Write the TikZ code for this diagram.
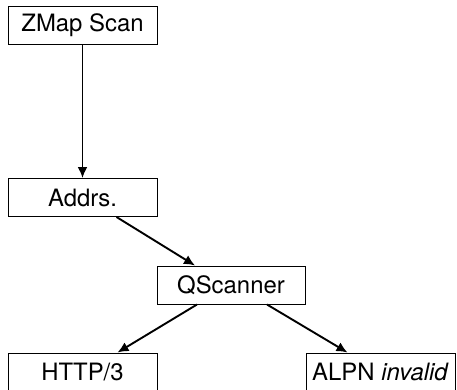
\documentclass[tikz,border=0pt]{standalone}
\usepackage{fontspec}
\setmainfont{TeX Gyre Heros}
\usetikzlibrary{arrows.meta}
\begin{document}
\begin{tikzpicture}[x=1pt,y=-1pt,
  box/.style={draw, line width=1pt, minimum width=149pt, minimum height=38pt,
    inner sep=0pt, font=\fontsize{23.9}{28}\selectfont},
  flow/.style={line width=1.9pt, -{Latex[length=11pt,width=10pt]}}]
  \useasboundingbox (0,0) rectangle (457,389);
  \clip (0,0) rectangle (457,389);
  \node[box] (zmap)  at (82.5,25)   {ZMap Scan};
  \node[box] (addrs) at (82.5,197.5){Addrs.};
  \node[box, minimum width=148pt] (qscan) at (231,285) {QScanner};
  \node[box] (http)  at (82.5,372)  {HTTP/3};
  \node[box] (alpn)  at (380.5,372) {ALPN \textit{invalid}};
  \draw[flow] (zmap) -- (addrs);
  \draw[flow] ([xshift=34pt]addrs.south) -- ([xshift=-36pt]qscan.north);
  \draw[flow] ([xshift=-34pt]qscan.south) -- ([xshift=35pt]http.north);
  \draw[flow] ([xshift=36pt]qscan.south) -- ([xshift=-33pt]alpn.north);
\end{tikzpicture}
\end{document}
